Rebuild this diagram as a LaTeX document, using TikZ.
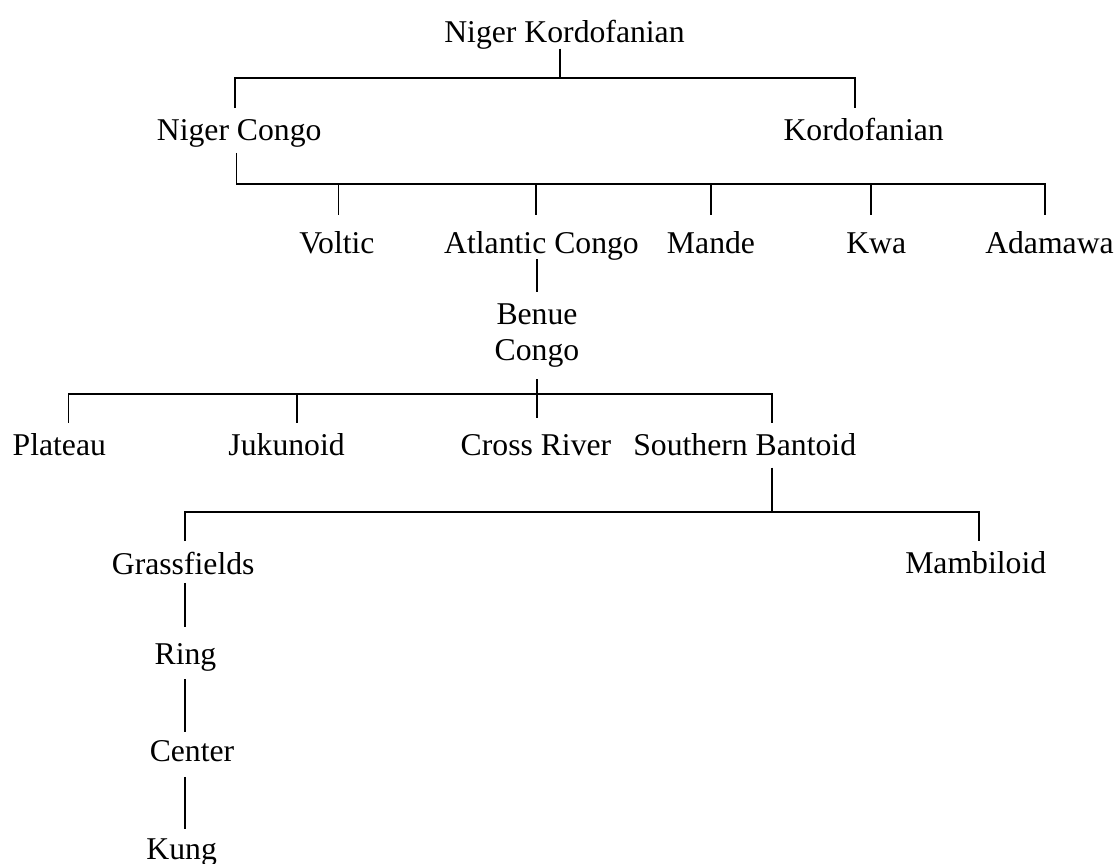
\documentclass[tikz,border=0pt]{standalone}
\usepackage{fontspec}
\setmainfont{Liberation Serif}
\begin{document}
\begin{tikzpicture}[
    x=1pt, y=-1pt,
    line width=1.7pt,
    lang/.style={
        font=\fontsize{31.7}{36}\selectfont,
        anchor=base,
        inner xsep=0pt,
        inner ysep=5pt,
        text height=27pt,
        text depth=6pt
    }
]
\useasboundingbox (0,0) rectangle (1117,864);

% Top levels
\node[lang, text depth=0pt] (nk) at (564.5,42.7) {Niger Kordofanian};
\node[lang] (nc) at (239.2,141) {Niger Congo};
\node[lang] (ko) at (863.7,141) {Kordofanian};

% Niger Congo branches
\node[lang, text height=32.6pt] (vo) at (336.9,253.3) {Voltic};
\node[lang, text height=32.6pt, text depth=0pt] (ac) at (541.5,253.3) {Atlantic Congo};
\node[lang, text height=32.6pt] (ma) at (711,253.3) {Mande};
\node[lang, text height=32.6pt] (kw) at (876.2,253.3) {Kwa};
\node[lang, text height=32.6pt] (ad) at (1049.5,253.3) {Adamawa};
\node[font=\fontsize{31.7}{36}\selectfont, align=center, anchor=north,
      inner xsep=0pt, inner ysep=11pt] (bc) at (537,292.2) {Benue\\Congo};

% Benue Congo branches
\node[lang] (pl) at (59.3,455.7) {Plateau};
\node[lang] (ju) at (286.6,455.7) {Jukunoid};
\node[lang, text height=32pt] (cr) at (536,455.5) {Cross River};
\node[lang] (sb) at (744.7,455.7) {Southern Bantoid};
\node[lang, text depth=3pt] (gf) at (183.2,574) {Grassfields};
\node[lang] (mb) at (975.7,573.5) {Mambiloid};
\node[lang, text height=30.7pt, text depth=9.3pt] (ri) at (185.5,664) {Ring};
\node[lang, text height=24pt, text depth=9.3pt] (ce) at (192,761.7) {Center};
\node[lang, text height=24pt] (ku) at (181.7,859) {Kung};

% Bar junctions
\coordinate (j0) at (560,77.7);
\coordinate (j1a) at (235,77.7);
\coordinate (j1b) at (855,77.7);
\coordinate (j2a) at (236.4,184.3);
\coordinate (j2b) at (338.6,184.3);
\coordinate (j2c) at (535.7,184.3);
\coordinate (j2d) at (711,184.3);
\coordinate (j2e) at (870.8,184.3);
\coordinate (j2f) at (1045.2,184.3);
\coordinate (j3a) at (68.6,394.3);
\coordinate (j3b) at (296.8,394.3);
\coordinate (j3c) at (537,394.3);
\coordinate (j3d) at (772,394.3);
\coordinate (j4a) at (185,512);
\coordinate (j4b) at (772,512);
\coordinate (j4c) at (979.2,512);

% Connectors
\draw (nk.south -| j0) -- (j0);
\draw (nc.north -| j1a) -- (j1a) -- (j1b) -- (ko.north -| j1b);
\draw (nc.south -| j2a) -- (j2a) -- (j2f) -- (ad.north -| j2f);
\draw (j2b) -- (vo.north -| j2b);
\draw (j2c) -- (ac.north -| j2c);
\draw (j2d) -- (ma.north -| j2d);
\draw (j2e) -- (kw.north -| j2e);
\draw (ac.south -| j3c) -- (bc.north -| j3c);
\draw (bc.south -| j3c) -- (cr.north -| j3c);
\draw (pl.north -| j3a) -- (j3a) -- (j3d) -- (sb.north -| j3d);
\draw (j3b) -- (ju.north -| j3b);
\draw (sb.south -| j4b) -- (j4b);
\draw (gf.north -| j4a) -- (j4a) -- (j4c) -- (mb.north -| j4c);
\draw (gf.south -| j4a) -- (ri.north -| j4a);
\draw (ri.south -| j4a) -- (ce.north -| j4a);
\draw (ce.south -| j4a) -- (ku.north -| j4a);

\end{tikzpicture}
\end{document}
